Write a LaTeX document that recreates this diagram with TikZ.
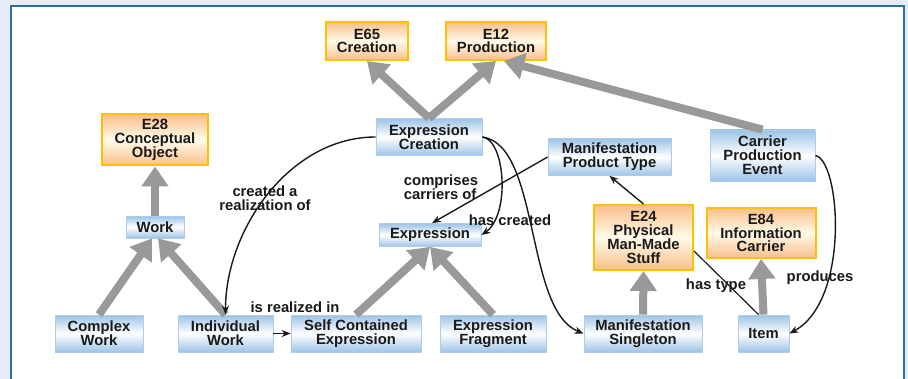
\documentclass[tikz,border=0pt]{standalone}
\usepackage{fontspec}
\setmainfont{Liberation Sans}
\usepackage{xcolor}
\usetikzlibrary{arrows.meta, calc}
\definecolor{PageBlue}{HTML}{E3ECF7}
\definecolor{FrameBlue}{HTML}{2E6DA4}
\definecolor{BoxBlue}{HTML}{9DC3E6}
\definecolor{BoxEdge}{HTML}{AFCDEB}
\definecolor{CrmGold}{HTML}{FFC000}
\definecolor{CrmPeach}{HTML}{F9BF8A}
\definecolor{CrmIvory}{HTML}{FFFBEA}
\definecolor{IsaGray}{HTML}{999999}
\definecolor{InkBlack}{HTML}{1A1A1A}
\newcommand{\diafont}{\fontsize{7.4}{6.9}\selectfont\bfseries}
\tikzset{
    % Box styles
    classbox/.style={
        rectangle,
        draw=BoxEdge,
        top color=BoxBlue,
        bottom color=BoxBlue,
        middle color=white,
        inner sep=0pt,
        align=center,
        text=InkBlack,
        font=\diafont
    },
    crmbox/.style={
        rectangle,
        draw=CrmGold,
        line width=1pt,
        top color=CrmPeach,
        bottom color=CrmPeach,
        middle color=CrmIvory,
        inner sep=0pt,
        align=center,
        text=InkBlack,
        font=\diafont
    },
    boxsize/.style 2 args={
        minimum width=#1,
        minimum height=#2
    },
    % Arrow styles
    isaarrow/.style={
        -{Triangle[length=10pt,width=13pt]},
        line width=4pt,
        IsaGray
    },
    relarrow/.style={
        -{Stealth[length=4.5pt,width=3.5pt]},
        line width=0.7pt,
        InkBlack
    },
    relline/.style={
        line width=0.6pt,
        InkBlack
    },
    rellabel/.style={
        inner sep=0pt,
        align=center,
        text=InkBlack,
        font=\diafont
    }
}
\begin{document}
\begin{tikzpicture}[x=0.5pt, y=-0.5pt]
    \useasboundingbox (0,0) rectangle (908,379);
    % Panel
    \fill[PageBlue] (0,0) rectangle (908,379);
    \fill[white] (11,6) rectangle (904,379);
    \draw[FrameBlue, line width=1pt] (11,379) -- (11,6) -- (904,6) -- (904,379);

    % CRM classes
    \node[crmbox, boxsize={41pt}{19pt}] (e65) at (367,41) {E65\\Creation};
    \node[crmbox, boxsize={50pt}{19pt}] (e12) at (496,41) {E12\\Production};
    \node[crmbox, boxsize={53pt}{25.5pt}] (e28) at (155,140) {E28\\Conceptual\\Object};
    \node[crmbox, boxsize={49.5pt}{32.5pt}] (e24) at (643.5,237.5) {E24\\Physical\\Man-Made\\Stuff};
    \node[crmbox, boxsize={54.5pt}{25pt}] (e84) at (761,233) {E84\\Information\\Carrier};

    % FRBRoo classes
    \node[classbox, boxsize={29pt}{11pt}] (work) at (155,227) {Work};
    \node[classbox, boxsize={53pt}{18.5pt}] (ecre) at (429,137) {Expression\\Creation};
    \node[classbox, boxsize={61.5pt}{18.5pt}] (mpt) at (609.5,157) {Manifestation\\Product Type};
    \node[classbox, boxsize={52.5pt}{25.5pt}] (cpe) at (762.5,155.5) {Carrier\\Production\\Event};
    \node[classbox, boxsize={51pt}{11.5pt}] (expr) at (430,235) {Expression};
    \node[classbox, boxsize={44pt}{18.5pt}] (cwork) at (99,333.5) {Complex\\Work};
    \node[classbox, boxsize={47.5pt}{18.5pt}] (iwork) at (225.5,333.5) {Individual\\Work};
    \node[classbox, boxsize={65pt}{18.5pt}] (sce) at (356,333.5) {Self Contained\\Expression};
    \node[classbox, boxsize={53pt}{18.5pt}] (efrag) at (493,333.5) {Expression\\Fragment};
    \node[classbox, boxsize={59pt}{18.5pt}] (ms) at (643,333.5) {Manifestation\\Singleton};
    \node[classbox, boxsize={25.5pt}{18.5pt}] (item) at (763.5,333.5) {Item};

    % IsA links
    \draw[isaarrow] (ecre.north) -- (e65.south);
    \draw[isaarrow] (ecre.north) -- (e12.south);
    \draw[isaarrow] (cpe.north) -- ([xshift=4pt]e12.south);
    \draw[isaarrow] (work.north) -- (e28.south);
    \draw[isaarrow] (cwork.north) -- ([xshift=-1.5pt]work.south);
    \draw[isaarrow] (iwork.north) -- ([xshift=1.5pt]work.south);
    \draw[isaarrow] (sce.north) -- (expr.south);
    \draw[isaarrow] (efrag.north) -- (expr.south);
    \draw[isaarrow] (ms.north) -- (e24.south);
    \draw[isaarrow] (item.north) -- (e84.south);

    % Properties
    \draw[relarrow] (ecre.west) .. controls +(-86,0) and +(0,-85) .. (iwork.north);
    \draw[relarrow] (iwork.east) -- (sce.west);
    \draw[relarrow] (ecre.east) .. controls +(23,3) and +(29,-20) .. (expr.east);
    \draw[relarrow] (ecre.east) .. controls +(58,8) and +(-59,-23) .. (ms.west);
    \draw[relarrow] (mpt.west) -- ([xshift=1pt]expr.north);
    \draw[relarrow] (e24.north) -- (mpt.south);
    \draw[relline] (e24.-15) -- ([xshift=-2.5pt]item.north);
    \draw[relarrow] (cpe.east) .. controls +(25,5) and +(61,-33) .. (item.east);

    % Property labels
    \node[rellabel] (lrealof) at (265,198) {created a\\realization of};
    \node[rellabel] (lrealin) at (295,307) {is realized in};
    \node[rellabel, align=left] (lcompr) at (441,187) {comprises\\carriers of};
    \node[rellabel] (lhascr) at (510,220) {has created};
    \node[rellabel] (lhastype) at (716,286) {has type};
    \node[rellabel] (lprod) at (820,278) {produces};
\end{tikzpicture}
\end{document}
